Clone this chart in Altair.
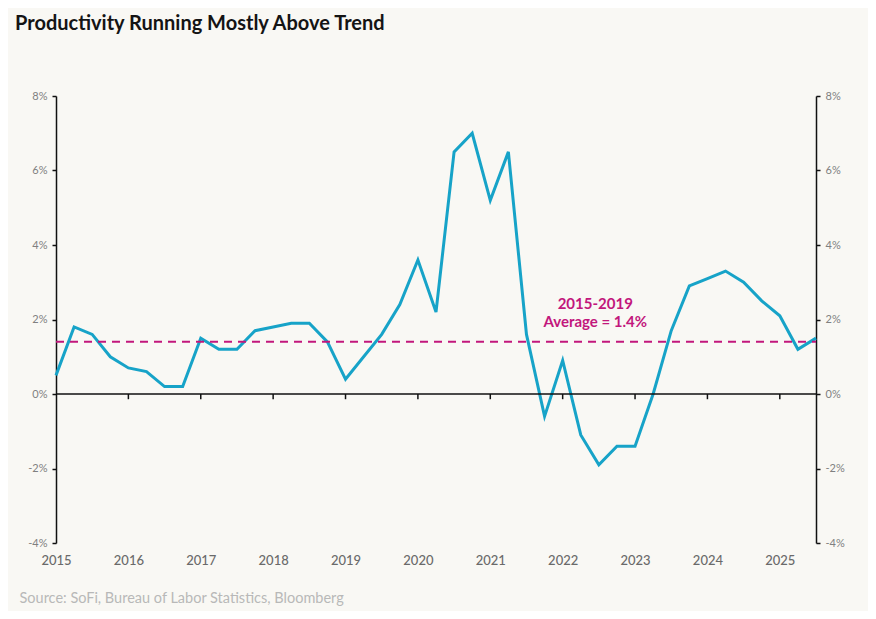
import altair as alt
import pandas as pd

# Quarterly productivity growth, 2015Q1 - 2025Q3 (%)
values = [
    0.5, 1.8, 1.6, 1.0,
    0.7, 0.6, 0.2, 0.2,
    1.5, 1.2, 1.2, 1.7,
    1.8, 1.9, 1.9, 1.4,
    0.4, 1.0, 1.6, 2.4,
    3.6, 2.2, 6.5, 7.0,
    5.2, 6.5, 1.6, -0.6,
    0.9, -1.1, -1.9, -1.4,
    -1.4, 0.0, 1.7, 2.9,
    3.1, 3.3, 3.0, 2.5,
    2.1, 1.2, 1.5,
]
times = [2015 + i * 0.25 for i in range(len(values))]
years = list(range(2015, 2026))
tick_years = list(range(2016, 2026))
y_ticks = [-4, -2, 0, 2, 4, 6, 8]
x_start, x_end = 2015, 2025.5
average = 1.4
annotation_x = 2022.45
annotation = "2015-2019\nAverage = 1.4%"
title = "Productivity Running Mostly Above Trend"
source = "Source: SoFi, Bureau of Labor Statistics, Bloomberg"

df = pd.DataFrame({"t": times, "v": values})
ticks_df = pd.DataFrame({"t": tick_years, "y0": [0] * len(tick_years), "y1": [-0.14] * len(tick_years)})
zero_df = pd.DataFrame({"a": [x_start], "b": [x_end], "y": [0]})
avg_df = pd.DataFrame({"a": [x_start], "b": [x_end], "y": [average]})
label_df = pd.DataFrame({"x": [annotation_x], "y": [average], "text": [annotation]})

FONT = "Lato"
LINE = "#17a3c8"
MAGENTA = "#c2177c"

xscale = alt.Scale(domain=[x_start, x_end], nice=False, zero=False)
yscale = alt.Scale(domain=[-4, 8], nice=False)

x_axis = alt.Axis(
    values=years, format="d", domain=False, ticks=False, grid=False,
    labelPadding=11, labelFontSize=13, labelColor="#6a6a6a", labelFont=FONT,
    labelFontWeight=500, labelFlush=False,
    title=source, titleX=-37, titleY=59, titleAlign="left", titleAnchor="start",
    titleBaseline="alphabetic", titleFontSize=14.5, titleFontWeight="normal",
    titleColor="#b8b8b8", titleFont=FONT,
)

def yaxis(orient):
    return alt.Axis(
        orient=orient, values=y_ticks, labelExpr="datum.value + '%'",
        domain=True, domainColor="#111", domainWidth=1.5,
        ticks=True, tickColor="#111", tickSize=4, tickWidth=1.5,
        grid=False, labelFontSize=11, labelColor="#808080", labelFont=FONT,
        labelPadding=5, title=None,
    )

line = alt.Chart(df).mark_line(color=LINE, strokeWidth=3, strokeJoin="miter").encode(
    x=alt.X("t:Q", scale=xscale, axis=x_axis),
    y=alt.Y("v:Q", scale=yscale, axis=yaxis("left")),
)

zero = alt.Chart(zero_df).mark_rule(color="#111", strokeWidth=1.5).encode(
    x=alt.X("a:Q", scale=xscale, axis=x_axis),
    x2="b:Q",
    y=alt.Y("y:Q", scale=yscale),
)

xticks = alt.Chart(ticks_df).mark_rule(color="#111", strokeWidth=1.5).encode(
    x=alt.X("t:Q", scale=xscale, axis=x_axis),
    y=alt.Y("y0:Q", scale=yscale),
    y2="y1:Q",
)

avg = alt.Chart(avg_df).mark_rule(color=MAGENTA, strokeWidth=2, strokeDash=[8, 6]).encode(
    x=alt.X("a:Q", scale=xscale, axis=x_axis),
    x2="b:Q",
    y=alt.Y("y:Q", scale=yscale),
)

label = alt.Chart(label_df).transform_calculate(
    lines="split(datum.text, '\\n')"
).mark_text(
    color=MAGENTA, font=FONT, fontSize=15, fontWeight="bold",
    align="center", baseline="bottom", lineHeight=18, dy=-30,
).encode(
    x=alt.X("x:Q", scale=xscale, axis=x_axis),
    y=alt.Y("y:Q", scale=yscale),
    text="lines:N",
)

main = alt.layer(line, zero, xticks, avg, label)

right = alt.Chart(df).mark_line(opacity=0).encode(
    x=alt.X("t:Q", scale=xscale, axis=x_axis),
    y=alt.Y("v:Q", scale=yscale, axis=yaxis("right")),
)

chart = (
    alt.layer(main, right)
    .resolve_scale(y="independent")
    .properties(
        width=760, height=447,
        autosize=alt.AutoSizeParams(type="none"),
        padding={"left": 48, "top": 88, "right": 52, "bottom": 68},
        background="#f9f8f4",
        title=alt.TitleParams(
            text=title, anchor="start", frame="group", font=FONT, fontSize=20,
            fontWeight="bold", color="#141414", dx=-41, offset=40,
            baseline="alphabetic",
        ),
    )
    .configure_view(stroke=None)
)

chart.save("out.html", embed_options={"renderer": "svg", "actions": False})
